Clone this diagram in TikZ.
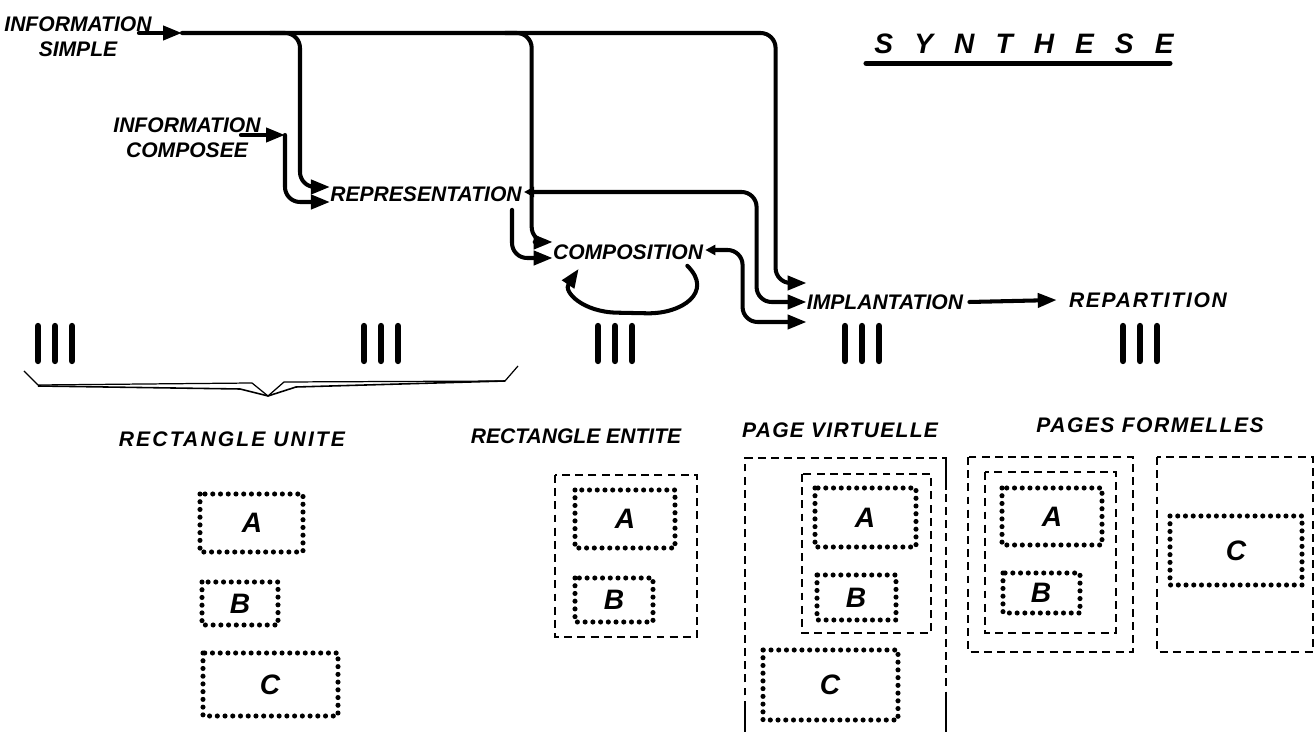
\documentclass[tikz,border=0pt]{standalone}
\usepackage{fontspec}
\setmainfont{Liberation Sans}
\usetikzlibrary{positioning}
\usetikzlibrary{calc}
\usetikzlibrary{arrows.meta}

\tikzset{
  lbl/.style={inner sep=0pt, font=\fontsize{12}{14.5}\selectfont\bfseries\itshape, align=center},
  etiquette/.style={inner sep=0pt, font=\fontsize{12}{14}\selectfont\bfseries\itshape\addfontfeature{LetterSpace=#1}},
  etiquette/.default=6,
  titre/.style={inner sep=0pt, font=\fontsize{16}{19}\selectfont\bfseries\itshape\addfontfeature{LetterSpace=75}},
  trait/.style={line width=2.3pt, rounded corners=0.3cm, line cap=round},
  fleche/.style={trait, -{Triangle[length=0.38cm,width=0.28cm]}},
  fleche2/.style={trait, {Triangle[length=0.2cm,width=0.2cm]}-{Triangle[length=0.38cm,width=0.28cm]}},
  pointille/.style={line width=2.9pt, line cap=round, dash pattern=on 0pt off 4.4pt},
  tirets/.style={line width=1.2pt, dash pattern=on 4.5pt off 3pt},
  lettre/.style={inner sep=0pt, font=\fontsize{16}{16}\selectfont\bfseries\itshape},
  barre/.style={line width=3.6pt, line cap=round},
}

\begin{document}
\begin{tikzpicture}[x=0.02cm, y=-0.02cm]
    \useasboundingbox (0,0) rectangle (1316,732);

    % chaine de synthese
    \node[lbl] (insimple) at (78,37) {INFORMATION\\SIMPLE};
    \node[lbl] (incomp) at (187,138) {INFORMATION\\COMPOSEE};
    \node[lbl] (repr) at (426,194) {REPRESENTATION};
    \node[lbl] (comp) at (628,252) {COMPOSITION};
    \node[lbl] (impl) at (885,302) {IMPLANTATION};
    \node[lbl, font=\fontsize{12}{14.5}\selectfont\bfseries\itshape\addfontfeature{LetterSpace=8}] (repart) at (1148,300) {REPARTITION};
    \node[titre] (synth) at (1024,44) {SYNTHESE};
    \draw[line width=3pt, line cap=round] ($(synth.south west)+(-8,9)$) -- ($(synth.south east)+(-4,9)$);

    \coordinate (j0) at (182,33);
    \coordinate (b1) at (270,33);
    \coordinate (b2) at (505,33);
    \coordinate (j1) at (285,135);

    \draw[fleche] ($(insimple.east)+(-13,-4)$) -- (j0);
    \draw[fleche] (j0) -| ($(impl.west)+(-31,-19)$) -- ($(impl.west)+(0,-19)$);
    \draw[fleche] (b1) -| ($(repr.west)+(-30,-7)$) -- ($(repr.west)+(0,-7)$);
    \draw[fleche] (b2) -| ($(comp.west)+(-21,-10)$) -- ($(comp.west)+(0,-10)$);
    \draw[fleche] ($(incomp.east)+(-20,-3)$) -- (j1);
    \draw[fleche] (j1) |- ($(repr.west)+(0,8)$);
    \draw[fleche] ($(repr.south east)+(-10,8)$) |- ($(comp.west)+(0,6)$);
    \draw[fleche2] ($(repr.east)+(2,-2)$) -| ($(impl.west)+(-50,0)$) -- (impl.west);
    \draw[fleche2] ($(comp.east)+(2,-2)$) -| ($(impl.west)+(-64,20)$) -- ($(impl.west)+(0,20)$);
    \draw[fleche] ($(comp.south east)+(-16,6)$) .. controls (714,292) and (682,314) .. (632,313)
        .. controls (583,312) and (563,292) .. ($(comp.south west)+(26,9)$);
    \draw[fleche] ($(impl.east)+(6,0)$) -- ($(repart.west)+(-12,0)$);

    % barres
    \foreach \c in {55,381,615,862,1140} {
        \foreach \d in {-17,0,17} {
            \draw[barre] (\c+\d,326) -- (\c+\d,361);
        }
    }

    % accolade
    \draw[line width=0.7pt] (24,371) -- (38,385) -- (252,383) -- (268,396) -- (284,382) -- (505,381) -- (518,366);
    \draw[line width=0.9pt] (38,386) -- (240,389) -- (268,396) -- (296,387) -- (505,381);

    % etiquettes
    \node[etiquette=10] (lunite) at (232,439) {RECTANGLE UNITE};
    \node[etiquette=0] (lentite) at (576,436) {RECTANGLE ENTITE};
    \node[etiquette=6] (lvirt) at (840,430) {PAGE VIRTUELLE};
    \node[etiquette=7] (lform) at (1150,425) {PAGES FORMELLES};

    % rectangle unite
    \draw[pointille] (200,494) rectangle (303,552);
    \node[lettre] (uA) at (252,523) {A};
    \draw[pointille] (202,582) rectangle (278,625);
    \node[lettre] (uB) at (240,604) {B};
    \draw[pointille] (203,653) rectangle (338,716);
    \node[lettre] (uC) at (270,685) {C};

    % rectangle entite
    \draw[tirets] (555,475) rectangle (697,637);
    \draw[pointille] (575,490) rectangle (675,548);
    \node[lettre] (eA) at (625,519) {A};
    \draw[pointille] (575,578) rectangle (653,622);
    \node[lettre] (eB) at (614,600) {B};

    % page virtuelle
    \draw[tirets] (745,735) -- (745,458) -- (946,458) -- (946,735);
    \draw[line width=1.2pt] (745,703) -- (745,735);
    \draw[line width=1.2pt] (946,695) -- (946,735);
    \draw[line width=1.2pt] (946,458) -- (946,490);
    \draw[tirets] (802,474) rectangle (931,633);
    \draw[pointille] (815,488) rectangle (916,547);
    \node[lettre] (vA) at (865,518) {A};
    \draw[pointille] (817,575) rectangle (896,620);
    \node[lettre] (vB) at (856,598) {B};
    \draw[pointille] (763,650) rectangle (898,720);
    \node[lettre] (vC) at (830,685) {C};

    % pages formelles
    \draw[tirets] (968,457) rectangle (1133,652);
    \draw[tirets] (985,472) rectangle (1116,633);
    \draw[pointille] (1002,488) rectangle (1102,545);
    \node[lettre] (fA) at (1052,517) {A};
    \draw[pointille] (1003,573) rectangle (1080,613);
    \node[lettre] (fB) at (1041,593) {B};
    \draw[tirets] (1157,457) rectangle (1313,652);
    \draw[pointille] (1170,516) rectangle (1302,585);
    \node[lettre] (fC) at (1236,551) {C};
\end{tikzpicture}
\end{document}
